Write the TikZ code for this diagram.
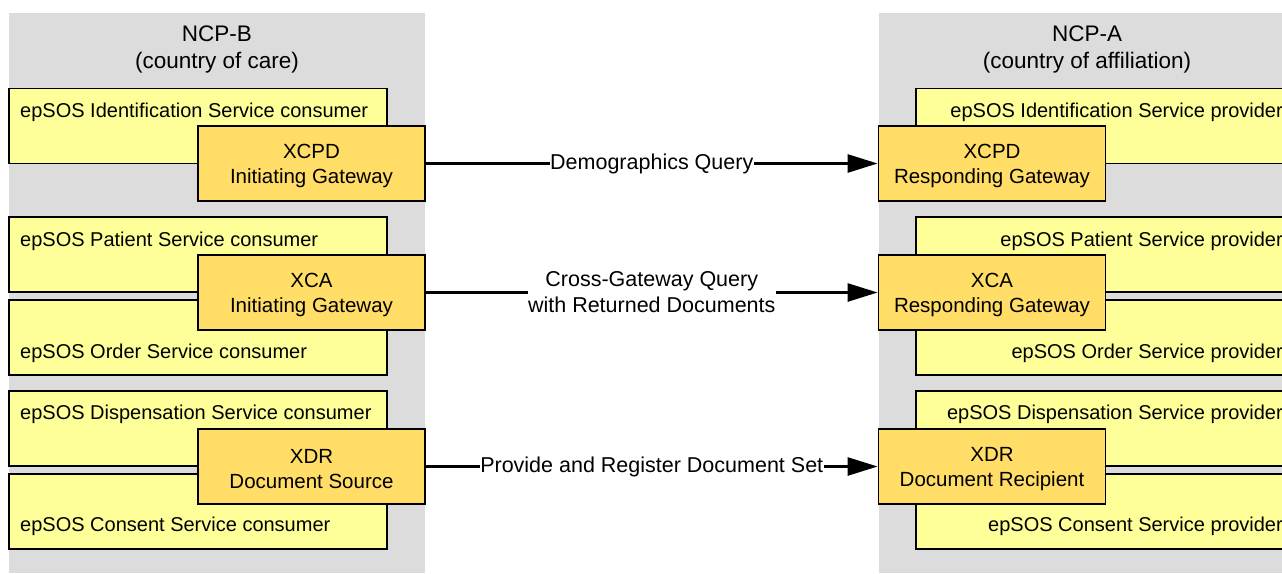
\documentclass[tikz,border=0pt]{standalone}
\usepackage{fontspec}
\setmainfont{Liberation Sans}
\usetikzlibrary{arrows.meta}
\definecolor{panelgray}{HTML}{DCDCDC}
\definecolor{svcyellow}{HTML}{FFFF99}
\definecolor{gworange}{HTML}{FFDD66}
\begin{document}
\begin{tikzpicture}[x=1pt,y=-1pt,
  font=\fontsize{20}{25}\selectfont,
  panel/.style={fill=panelgray, draw=none, minimum width=416pt, minimum height=560pt, inner sep=0pt},
  svc/.style={draw=black, line width=1.8pt, fill=svcyellow, minimum width=378pt, minimum height=75pt, inner sep=0pt},
  gw/.style={draw=black, line width=1.8pt, fill=gworange, minimum width=227pt, minimum height=75pt, inner sep=0pt},
  gwtext/.style={align=center, inner sep=0pt, yshift=-2.5pt, font=\fontsize{20.5}{25}\selectfont},
  svctext/.style={inner sep=0pt},
  title/.style={align=center, inner sep=0pt, font=\fontsize{22.5}{27}\selectfont},
  flow/.style={line width=2.6pt, -{Triangle[length=30pt,width=18pt]}},
  flowlabel/.style={fill=white, inner sep=0.5pt, align=center, font=\fontsize{21.5}{26}\selectfont}]
\useasboundingbox (0,0) rectangle (1282,573);
\clip (0,0) rectangle (1282,573);
\fill[white] (0,0) rectangle (1282,573);
% panels
\node[panel] (panelB) at (217,293) {};
\node[panel] (panelA) at (1087,293) {};
\node[title] (titleB) at (217,49.5) {NCP-B\\(country of care)};
\node[title] (titleA) at (1087,49.5) {NCP-A\\(country of affiliation)};
% left service boxes
\node[svc] (idC) at (198,126) {};
\node[svc] (patC) at (198,254.5) {};
\node[svc] (ordC) at (198,337.5) {};
\node[svc] (dispC) at (198,428.5) {};
\node[svc] (consC) at (198,511.5) {};
\node[svctext, anchor=west] (idCt) at (20,112) {epSOS Identification Service consumer};
\node[svctext, anchor=west] (patCt) at (20,241) {epSOS Patient Service consumer};
\node[svctext, anchor=west] (ordCt) at (20,353) {epSOS Order Service consumer};
\node[svctext, anchor=west] (dispCt) at (20,414.5) {epSOS Dispensation Service consumer};
\node[svctext, anchor=west] (consCt) at (20,526.5) {epSOS Consent Service consumer};
% right service boxes
\node[svc] (idP) at (1105,126) {};
\node[svc] (patP) at (1105,254.5) {};
\node[svc] (ordP) at (1105,337.5) {};
\node[svc] (dispP) at (1105,428.5) {};
\node[svc] (consP) at (1105,511.5) {};
\node[svctext, anchor=east] (idPt) at (1283,112) {epSOS Identification Service provider};
\node[svctext, anchor=east] (patPt) at (1283,241) {epSOS Patient Service provider};
\node[svctext, anchor=east] (ordPt) at (1283,353) {epSOS Order Service provider};
\node[svctext, anchor=east] (dispPt) at (1283,414.5) {epSOS Dispensation Service provider};
\node[svctext, anchor=east] (consPt) at (1283,526.5) {epSOS Consent Service provider};
% gateways
\node[gw, label={[gwtext, name=xcpdIt]center:XCPD\\Initiating Gateway}] (xcpdI) at (311.5,163.5) {};
\node[gw, label={[gwtext, name=xcaIt]center:XCA\\Initiating Gateway}] (xcaI) at (311.5,292.5) {};
\node[gw, label={[gwtext, name=xdrSt]center:XDR\\Document Source}] (xdrS) at (311.5,466.5) {};
\node[gw, label={[gwtext, name=xcpdRt]center:XCPD\\Responding Gateway}] (xcpdR) at (992,163.5) {};
\node[gw, label={[gwtext, name=xcaRt]center:XCA\\Responding Gateway}] (xcaR) at (992,292.5) {};
\node[gw, label={[gwtext, name=xdrRt]center:XDR\\Document Recipient}] (xdrR) at (992,466.5) {};
% flows
\draw[flow] (xcpdI.east) -- node[flowlabel] (lblDQ) {Demographics Query} (xcpdR.west);
\draw[flow] (xcaI.east) -- node[flowlabel] (lblXCA) {Cross-Gateway Query\\with Returned Documents} (xcaR.west);
\draw[flow] (xdrS.east) -- node[flowlabel] (lblXDR) {Provide and Register Document Set} (xdrR.west);
\end{tikzpicture}
\end{document}
